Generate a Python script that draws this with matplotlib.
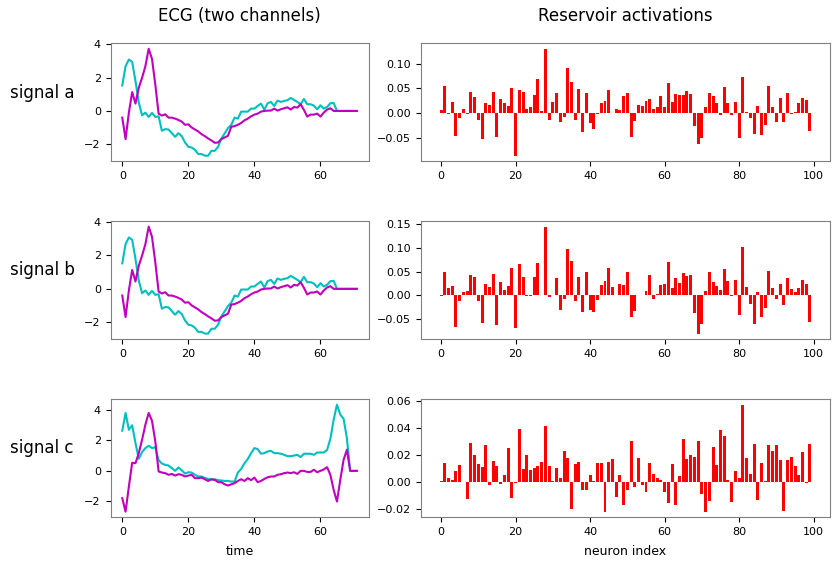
import numpy as np
import matplotlib
matplotlib.use("Agg")
import matplotlib.pyplot as plt

plt.rcParams.update({
    'font.size': 8,
    'xtick.labelsize': 8,
    'ytick.labelsize': 8,
    'axes.edgecolor': '#808080',
})

# ECG channels (signals a and b share the same recording)
ecg_ab_ch1 = [1.53, 2.68, 3.08, 2.94, 1.79, 0.5, -0.26, -0.1, -0.36, -0.12,
              -0.36, -0.32, -1.19, -1.09, -1.11, -1.33, -1.55, -1.33, -1.51, -1.89,
              -2.15, -2.19, -2.33, -2.58, -2.58, -2.68, -2.68, -2.39, -2.39, -2.15,
              -1.65, -1.35, -1.03, -0.83, -0.40, -0.46, -0.04, -0.04, -0.04, 0.14,
              0.14, 0.3, 0.44, 0.08, 0.46, 0.54, 0.3, 0.62, 0.54, 0.6,
              0.64, 0.78, 0.66, 0.54, 0.4, 0.72, 0.4, 0.4, 0.32, 0.1,
              0.34, 0.14, 0.24, 0.46, 0.48, 0.0, 0.0, 0.0, 0.0, 0.0,
              0.0, 0.0]
ecg_ab_ch2 = [-0.40, -1.69, -0.1, 1.13, 0.44, 1.39, 1.99, 2.68, 3.73, 3.12,
              1.59, -0.16, -0.28, -0.2, -0.4, -0.4, -0.46, -0.54, -0.64, -0.83,
              -0.80, -0.99, -1.11, -1.23, -1.39, -1.51, -1.65, -1.77, -1.91, -1.89,
              -1.69, -1.59, -1.49, -0.95, -0.91, -0.83, -0.72, -0.56, -0.46, -0.32,
              -0.22, -0.16, -0.04, 0.0, 0.02, 0.02, 0.14, 0.02, 0.1, 0.16,
              0.22, 0.08, 0.24, 0.2, 0.4, 0.06, -0.34, -0.22, -0.22, -0.16,
              -0.34, -0.1, 0.08, 0.16, 0.0, 0.0, 0.0, 0.0, 0.0, 0.0,
              0.0, 0.0]
ecg_c_ch1 = [2.63, 3.79, 2.69, 2.98, 1.82, 0.79, 1.23, 1.49, 1.64, 1.49,
             1.55, 0.70, 0.48, 0.39, 0.35, 0.18, 0.0, 0.22, 0.04, -0.18,
             -0.09, -0.11, -0.26, -0.37, -0.37, -0.46, -0.53, -0.57, -0.55, -0.61,
             -0.63, -0.66, -0.66, -0.70, -0.70, -0.11, 0.13, 0.50, 0.77, 1.16,
             1.49, 1.42, 1.12, 1.16, 1.27, 1.31, 1.16, 1.16, 1.12, 1.05,
             0.96, 0.96, 1.0, 1.05, 0.90, 1.12, 1.12, 1.12, 1.05, 1.2,
             1.2, 1.2, 1.36, 2.1, 3.35, 4.33, 3.68, 3.41, 2.14, 0.0,
             0.0, 0.0]
ecg_c_ch2 = [-1.79, -2.67, -1.03, 0.53, 0.50, 1.16, 2.04, 3.02, 3.79, 3.28,
             1.93, -0.04, -0.11, -0.15, -0.26, -0.2, -0.31, -0.22, -0.26, -0.37,
             -0.31, -0.26, -0.48, -0.48, -0.44, -0.55, -0.66, -0.55, -0.59, -0.74,
             -0.74, -0.88, -0.96, -0.88, -0.81, -0.66, -0.55, -0.66, -0.48, -0.61,
             -0.44, -0.74, -0.66, -0.53, -0.42, -0.37, -0.37, -0.26, -0.22, -0.15,
             -0.11, -0.15, -0.09, -0.2, 0.0, 0.0, -0.07, -0.07, 0.07, -0.09,
             0.0, 0.09, 0.24, -0.26, -1.25, -2.01, -0.59, 0.72, 1.38, 0.0,
             0.0, 0.0]

# Reservoir state for each signal, one value per neuron
act_a = [0.006, 0.055, -0.003, 0.022, -0.047, -0.011, 0.0075, -0.002, 0.043, 0.033,
         -0.014, -0.053, 0.021, 0.016, 0.042, -0.048, 0.029, 0.020, 0.014, 0.050,
         -0.087, 0.047, 0.042, 0.0075, 0.012, 0.036, 0.070, 0.005, 0.131, -0.015,
         0.023, 0.041, -0.019, -0.009, 0.092, 0.064, -0.014, 0.049, -0.038, 0.040,
         -0.021, -0.032, -0.002, 0.021, 0.025, 0.047, -0.001, 0.0075, 0.006, 0.034,
         0.040, -0.049, -0.016, 0.016, 0.014, 0.025, 0.028, 0.009, 0.012, 0.034,
         0.012, 0.062, 0.022, 0.038, 0.037, 0.037, 0.045, 0.038, -0.027, -0.064,
         -0.051, 0.012, 0.040, 0.035, 0.021, -0.005, 0.053, 0.021, -0.004, 0.022,
         -0.052, 0.073, 0.001, -0.011, -0.043, 0.014, -0.044, -0.025, 0.055, 0.012,
         -0.018, 0.030, -0.018, 0.041, -0.003, 0.001, 0.020, 0.031, 0.027, -0.037]
act_b = [-0.002, 0.049, 0.015, 0.019, -0.068, -0.012, 0.006, 0.009, 0.042, 0.038,
         -0.012, -0.058, 0.023, 0.018, 0.044, -0.062, 0.029, 0.011, 0.020, 0.058,
         -0.070, 0.067, 0.039, -0.001, -0.001, 0.038, 0.069, 0.0, 0.145, -0.003,
         0.001, 0.036, -0.032, -0.009, 0.098, 0.073, -0.012, 0.039, -0.035, 0.050,
         -0.032, -0.036, -0.010, 0.022, 0.031, 0.057, 0.018, 0.0, 0.023, 0.021,
         0.049, -0.046, -0.033, 0.0015, 0.0015, 0.008, 0.042, -0.008, 0.002, 0.021,
         0.023, 0.071, 0.015, 0.037, 0.025, 0.046, 0.041, 0.043, -0.037, -0.081,
         -0.061, 0.008, 0.049, 0.028, 0.019, 0.011, 0.056, 0.030, -0.001, 0.032,
         -0.041, 0.101, 0.018, -0.018, -0.061, 0.006, -0.046, -0.028, 0.052, 0.015,
         -0.009, 0.023, -0.020, 0.036, 0.013, 0.006, 0.015, 0.032, 0.023, -0.056]
act_c = [0.001, 0.014, 0.0025, 0.0012, 0.0077, 0.0126, 0.0, -0.0126, 0.029, 0.020,
         0.013, 0.011, 0.027, -0.0025, 0.0155, 0.012, -0.0017, 0.005, 0.0247, -0.012,
         -0.0012, 0.039, 0.0096, 0.020, 0.0084, 0.0106, 0.012, 0.015, 0.041, 0.012,
         0.0007, 0.0106, 0.0025, 0.0225, 0.0173, -0.0198, 0.0133, 0.015, -0.0057, -0.0057,
         0.005, 0.001, 0.014, 0.014, -0.022, 0.015, 0.017, -0.011, 0.005, -0.017,
         -0.006, 0.030, -0.004, 0.0175, -0.002, -0.0074, 0.014, 0.006, 0.003, 0.0017,
         -0.0077, -0.0156, 0.013, -0.017, 0.004, 0.032, 0.017, 0.020, 0.018, 0.030,
         -0.0086, -0.022, -0.014, 0.026, 0.0126, 0.0385, 0.0336, 0.0012, -0.015, 0.0077,
         0.0025, 0.057, 0.0173, 0.006, 0.028, -0.0133, 0.0138, 0.0005, 0.027, 0.0225,
         0.027, 0.016, -0.0217, 0.016, 0.018, 0.012, 0.0054, 0.022, -0.0005, 0.028]

row_names = ['signal a', 'signal b', 'signal c']
ecg_rows = [(ecg_ab_ch1, ecg_ab_ch2), (ecg_ab_ch1, ecg_ab_ch2), (ecg_c_ch1, ecg_c_ch2)]
act_rows = [act_a, act_b, act_c]

fig = plt.figure(figsize=(8.33, 5.63), dpi=100)

bottoms = [0.714, 0.398, 0.0817]
row_label_y = [0.835, 0.520, 0.204]
h = 0.209

for r in range(3):
    ax_l = fig.add_axes([0.1327, bottoms[r], 0.3097, h])
    ch1, ch2 = ecg_rows[r]
    t = np.arange(len(ch1))
    ax_l.plot(t, ch1, color='c', linewidth=1.5)
    ax_l.plot(t, ch2, color='m', linewidth=1.5)

    ax_r = fig.add_axes([0.5054, bottoms[r], 0.491, h])
    acts = act_rows[r]
    ax_r.bar(np.arange(len(acts)), acts, color='red', width=0.8)

    fig.text(0.012, row_label_y[r], row_names[r], fontsize=12, va='center', ha='left')

    if r == 0:
        ax_l.set_title('ECG (two channels)', fontsize=12, pad=16)
        ax_r.set_title('Reservoir activations', fontsize=12, pad=16)
    if r == 2:
        ax_l.set_xlabel('time', fontsize=9, labelpad=6)
        ax_r.set_xlabel('neuron index', fontsize=9, labelpad=6)

fig.savefig('out.png', dpi=100)
